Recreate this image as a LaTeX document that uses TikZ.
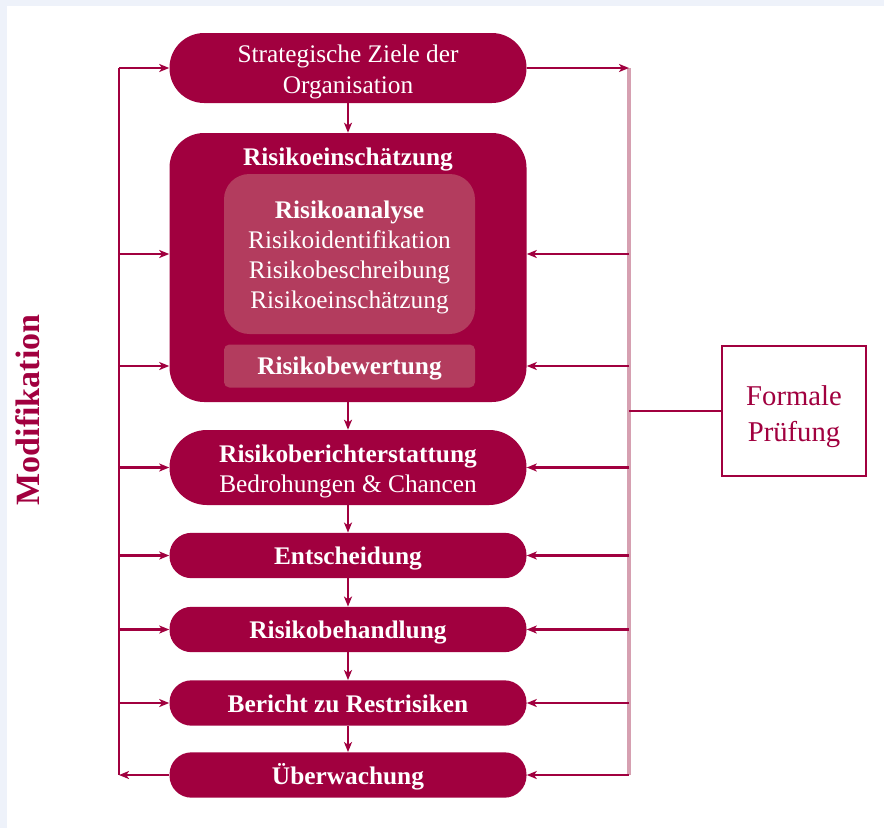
\documentclass[tikz,border=0pt]{standalone}
\usepackage{fontspec}
\setmainfont{Liberation Serif}
\usetikzlibrary{arrows.meta}
\definecolor{wine}{HTML}{A1003F}
\definecolor{winelight}{HTML}{B33C5E}
\definecolor{rosa}{HTML}{D6A0B1}
\definecolor{frame}{HTML}{EEF2FA}

\begin{document}
\begin{tikzpicture}[
        x=0.75pt, y=-0.75pt,
        box/.style={fill=wine, text=white, align=center, inner sep=0pt, minimum width=267.75pt, font=\fontsize{19}{23}\selectfont},
        pill/.style={box, minimum height=34pt, rounded corners=16.5pt, text height=17.5pt, text depth=4pt},
        inner/.style={fill=winelight, text=white, align=center, inner sep=0pt, minimum width=188.25pt, font=\fontsize{19}{22.5}\selectfont},
        line/.style={wine, line width=1.6pt},
        rline/.style={rosa, line width=2.4pt},
        arrow/.style={-{Stealth[length=7.5pt,width=6pt,inset=2pt]}, wine, line width=1.6pt}
      ]
        \fill[frame] (0,0) rectangle (884,828);
        \useasboundingbox (0,0) rectangle (884,828);
        \fill[white] (7,6) rectangle (884,828);

        \node (strat)   [box, minimum height=52.5pt, rounded corners=26pt, text height=42pt] at (348,68) {Strategische Ziele der\\ Organisation};
        \node (assess)  [box, minimum height=201.75pt, rounded corners=26pt] at (348,267.5) {};
        \node (assesstitle) [text=white, inner sep=0pt, font=\bfseries\fontsize{19}{22.5}\selectfont] at (348,160) {Risikoeinschätzung};
        \node (analyse) [inner, minimum height=120pt, rounded corners=19pt, text height=85.5pt] at (349.5,254) {\textbf{Risikoanalyse}\\ Risikoidentifikation\\ Risikobeschreibung\\ Risikoeinschätzung};
        \node (bewert)  [inner, minimum height=32.25pt, rounded corners=4pt, text height=17pt, text depth=4pt] at (349.5,366) {\textbf{Risikobewertung}};
        \node (report)  [box, minimum height=56.25pt, rounded corners=28pt, text height=42pt] at (348,467.5) {\textbf{Risikoberichterstattung}\\ Bedrohungen \& Chancen};
        \node (decide)  [pill] at (348,555.5) {\textbf{Entscheidung}};
        \node (treat)   [pill] at (348,629.5) {\textbf{Risikobehandlung}};
        \node (rest)    [pill] at (348,703)   {\textbf{Bericht zu Restrisiken}};
        \node (monitor) [pill] at (348,775)   {\textbf{Überwachung}};
        \node (formal)  [draw=wine, line width=1.5pt, text=wine, align=center, inner sep=0pt, minimum width=108pt, minimum height=97.5pt, text height=50.5pt, font=\fontsize{21.5}{27}\selectfont] at (794,411) {Formale\\ Prüfung};
        \node (modif)   [rotate=90, text=wine, font=\bfseries\fontsize{25.5}{30}\selectfont] at (28,410) {Modifikation};

        \coordinate (ltop) at (119,68);
        \coordinate (lbot) at (119,775);
        \coordinate (rtop) at (629,68);
        \coordinate (rbot) at (629,775);

        \draw[line]  (ltop) -- (lbot);
        \draw[rline] (rtop) -- (rbot);

        \draw[arrow] (strat.south)  -- (assess.north);
        \draw[arrow] (assess.south) -- (report.north);
        \draw[arrow] (report.south) -- (decide.north);
        \draw[arrow] (decide.south) -- (treat.north);
        \draw[arrow] (treat.south)  -- (rest.north);
        \draw[arrow] (rest.south)   -- (monitor.north);

        \foreach \n in {strat, report, decide, treat, rest}
          \draw[arrow] (ltop |- \n.west) -- (\n.west);
        \draw[arrow] (ltop |- analyse) -- (assess.west |- analyse);
        \draw[arrow] (ltop |- bewert)  -- (assess.west |- bewert);
        \draw[arrow] (monitor.west) -- (lbot);

        \foreach \n in {report, decide, treat, rest, monitor}
          \draw[arrow] (rtop |- \n.east) -- (\n.east);
        \draw[arrow] (rtop |- analyse) -- (assess.east |- analyse);
        \draw[arrow] (rtop |- bewert)  -- (assess.east |- bewert);
        \draw[arrow] (strat.east) -- (rtop);

        \draw[line] (formal.west) -- (rtop |- formal.west);
      \end{tikzpicture}
\end{document}
